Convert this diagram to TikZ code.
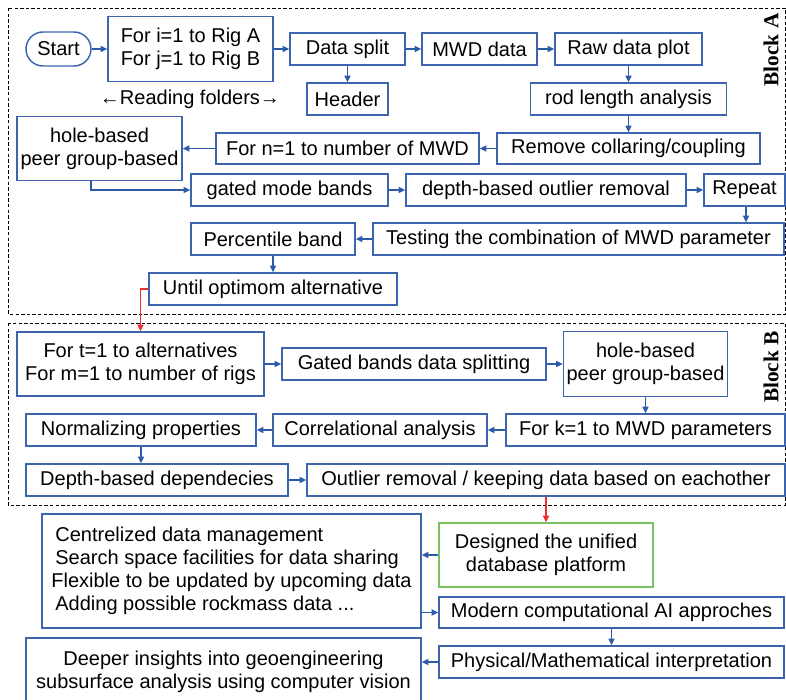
\documentclass[tikz,border=0pt]{standalone}
\usepackage{fontspec}
\setmainfont{Liberation Sans}
\newfontfamily\blockfont{Liberation Serif}
\usetikzlibrary{arrows.meta}
\newlength\pxu
\setlength\pxu{0.75pt}
\newcommand\mainsz{\fontsize{15pt}{17.25pt}\selectfont}
\definecolor{boxblue}{RGB}{60,100,175}
\definecolor{arrblue}{RGB}{45,90,170}
\definecolor{greenb}{RGB}{120,195,95}
\definecolor{redc}{RGB}{235,45,45}
\tikzset{
  box/.style={draw=boxblue, line width=1.1pt, inner sep=0pt, align=center, font=\mainsz, text=black},
  greenbox/.style={box, draw=greenb},
  arr/.style={draw=arrblue, line width=0.9pt, -{Triangle[length=5pt,width=4.6pt]}},
  redarr/.style={draw=redc, line width=0.9pt, -{Triangle[length=5pt,width=4.6pt]}},
  blockframe/.style={draw=black, line width=0.7pt, dash pattern=on 2.6pt off 1.6pt},
  blocklabel/.style={font=\blockfont\bfseries\fontsize{16pt}{18pt}\selectfont, rotate=90, inner sep=0pt},
  plain/.style={font=\mainsz, inner sep=0pt},
}
\begin{document}
\begin{tikzpicture}[x=0.75pt,y=-0.75pt]
\useasboundingbox (0,0) rectangle (786,700);

% block frames
\draw[blockframe] (8,8) rectangle (785,314);
\draw[blockframe] (8,323) rectangle (785,505);
\node[blocklabel] (blA) at (771,50) {Block A};
\node[blocklabel] (blB) at (771,367) {Block B};

% Block A
\node[box, minimum width=65\pxu, minimum height=34\pxu, rounded corners=17\pxu] (start) at (58.5,49) {Start};
\node[box, minimum width=165\pxu, minimum height=65\pxu] (fori) at (190.5,49) {For i=1 to Rig A\\For j=1 to Rig B};
\node[box, minimum width=115\pxu, minimum height=32\pxu] (split) at (347.5,49) {Data split};
\node[box, minimum width=81\pxu, minimum height=32\pxu] (header) at (347.5,99) {Header};
\node[plain] (reading) at (190,99) {←Reading folders→};
\node[box, minimum width=115\pxu, minimum height=32\pxu] (mwd) at (479.5,49) {MWD data};
\node[box, minimum width=147\pxu, minimum height=32\pxu] (raw) at (628.5,49) {Raw data plot};
\node[box, minimum width=196\pxu, minimum height=32\pxu] (rod) at (628.5,99) {rod length analysis};
\node[box, minimum width=263\pxu, minimum height=31\pxu] (remove) at (628.5,148.5) {Remove collaring/coupling};
\node[box, minimum width=263\pxu, minimum height=31\pxu] (forn) at (347.5,148.5) {For n=1 to number of MWD};
\node[box, minimum width=165\pxu, minimum height=64\pxu] (holeA) at (99.5,148.5) {hole-based\\peer group-based};
\node[box, minimum width=197\pxu, minimum height=32\pxu] (gated) at (289.5,190) {gated mode bands};
\node[box, minimum width=280\pxu, minimum height=32\pxu] (depth) at (546,190) {depth-based outlier removal};
\node[box, minimum width=81\pxu, minimum height=32\pxu] (repeat) at (744.5,190) {Repeat};
\node[box, minimum width=411\pxu, minimum height=32\pxu] (testing) at (578.5,239) {Testing the combination of MWD parameter};
\node[box, minimum width=164\pxu, minimum height=32\pxu] (percentile) at (273,239) {Percentile band};
\node[box, minimum width=248\pxu, minimum height=32\pxu] (until) at (273,289) {Until optimom alternative};

% Block B
\node[box, minimum width=247\pxu, minimum height=64\pxu] (fort) at (140.5,364) {For t=1 to alternatives\\For m=1 to number of rigs};
\node[box, minimum width=264\pxu, minimum height=32\pxu] (gatedb) at (414,364) {Gated bands data splitting};
\node[box, minimum width=164\pxu, minimum height=65\pxu] (holeB) at (645.5,364) {hole-based\\peer group-based};
\node[box, minimum width=279\pxu, minimum height=32\pxu] (fork) at (645.5,430) {For k=1 to MWD parameters};
\node[box, minimum width=214\pxu, minimum height=32\pxu] (corr) at (380,430) {Correlational analysis};
\node[box, minimum width=230\pxu, minimum height=32\pxu] (norm) at (141,430) {Normalizing properties};
\node[box, minimum width=262\pxu, minimum height=32\pxu] (depb) at (157,480) {Depth-based dependecies};
\node[box, minimum width=478\pxu, minimum height=32\pxu] (outlier) at (546,480) {Outlier removal / keeping data based on eachother};

% Bottom
\node[greenbox, minimum width=214\pxu, minimum height=64\pxu] (designed) at (546,555) {Designed the unified\\database platform};
\node[box, align=left, minimum width=379\pxu, minimum height=114\pxu] (central) at (231.5,571) {\hspace*{3pt}Centrelized data management\\\hspace*{3pt}Search space facilities for data sharing\\Flexible to be updated by upcoming data\\\hspace*{3pt}Adding possible rockmass data ...};
\node[box, minimum width=345\pxu, minimum height=31\pxu] (modern) at (611.5,612.5) {Modern computational AI approches};
\node[box, minimum width=345\pxu, minimum height=32\pxu] (physical) at (611.5,662) {Physical/Mathematical interpretation};
\node[box, minimum width=395\pxu, minimum height=67\pxu] (deeper) at (223.5,671.5) {Deeper insights into geoengineering\\subsurface analysis using computer vision};

% connectors Block A
\draw[arr] (start) -- (fori);
\draw[arr] (fori) -- (split);
\draw[arr] (split) -- (header);
\draw[arr] (split) -- (mwd);
\draw[arr] (mwd) -- (raw);
\draw[arr] (raw) -- (rod);
\draw[arr] (rod) -- (remove);
\draw[arr] (remove) -- (forn);
\draw[arr] (forn) -- (holeA);
\draw[arr] ([xshift=-8.5\pxu]holeA.south) |- (gated.west);
\draw[arr] (gated) -- (depth);
\draw[arr] (depth) -- (repeat);
\draw[arr] ([xshift=1.5\pxu]repeat.south) -- ([xshift=1.5\pxu]repeat.south |- testing.north);
\draw[arr] (testing) -- (percentile);
\draw[arr] (percentile) -- (until);
\draw[redarr] (until.west) -| (fort.north);

% connectors Block B
\draw[arr] (fort) -- (gatedb);
\draw[arr] (gatedb) -- (holeB);
\draw[arr] (holeB) -- (fork);
\draw[arr] (fork) -- (corr);
\draw[arr] (corr) -- (norm);
\draw[arr] (norm.south) -- (norm.south |- depb.north);
\draw[arr] (depb) -- (outlier);
\draw[redarr] (outlier) -- (designed);

% connectors bottom
\draw[arr] (designed.west) -- (designed.west -| central.east);
\draw[arr] (modern.west -| central.east) -- (modern.west);
\draw[arr] (modern) -- (physical);
\draw[arr] (physical.west) -- (physical.west -| deeper.east);
\end{tikzpicture}
\end{document}
